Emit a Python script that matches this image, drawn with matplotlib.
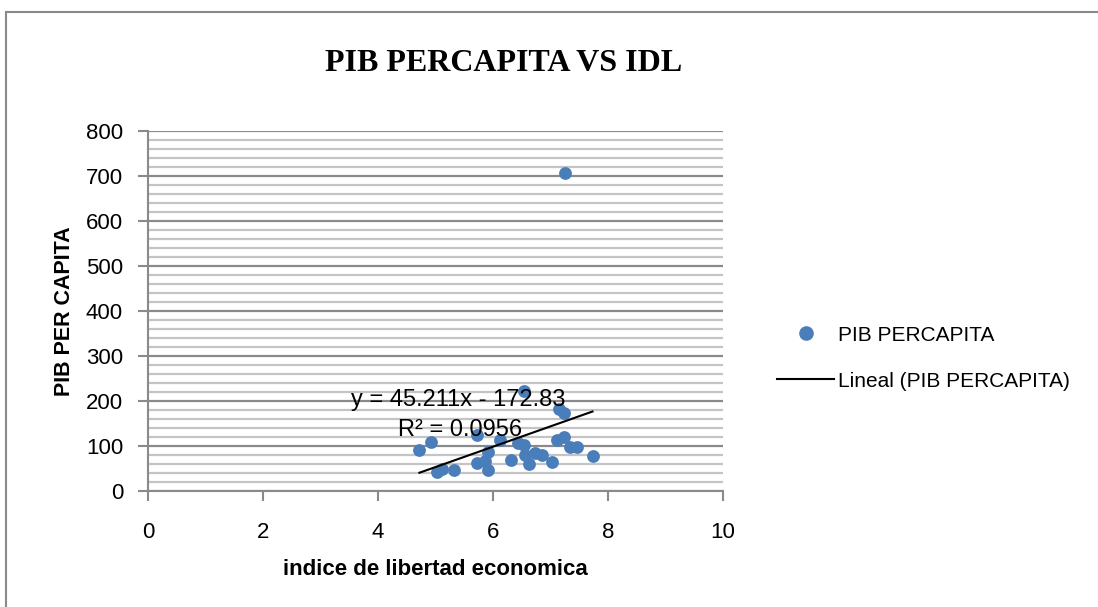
import numpy as np
import matplotlib
matplotlib.use("Agg")
import matplotlib.pyplot as plt
from matplotlib.lines import Line2D

# data
idl = [4.72, 4.92, 5.02, 5.12, 5.32, 5.73, 5.73, 5.92, 5.86, 5.92, 6.12, 6.32,
       6.44, 6.53, 6.53, 6.56, 6.63, 6.73, 6.85, 7.03, 7.11, 7.14, 7.23, 7.23,
       7.34, 7.46, 7.73, 7.25]
pib = [91, 110, 42, 50, 47, 124, 63, 87, 67, 47, 113, 69,
       106, 223, 102, 80, 61, 84, 80, 65, 113, 182, 174, 121,
       98, 98, 78, 707]
slope = 45.211
intercept = -172.83
r2 = 0.0956

blue = "#4A7EBB"
grey = "#8a8a8a"
font = "Liberation Sans"

fig = plt.figure(figsize=(10.98, 6.07), dpi=100)
ax = fig.add_axes([0.1348, 0.1911, 0.5237, 0.5931])

ax.scatter(idl, pib, s=85, color=blue, zorder=3, linewidths=0)
xs = np.array([min(idl), max(idl)])
ax.plot(xs, slope * xs + intercept, color="black", lw=1.5, zorder=4)

ax.set_xlim(0, 10)
ax.set_ylim(0, 800)
ax.set_xticks(range(0, 11, 2))
ax.set_yticks(range(0, 801, 100))
ax.set_yticks(range(0, 801, 20), minor=True)
ax.yaxis.grid(True, which="major", color=grey, lw=1.6, zorder=0)
ax.yaxis.grid(True, which="minor", color="#c4c4c4", lw=1.6, zorder=0)
ax.set_axisbelow(True)
for s in ["top", "right"]:
    ax.spines[s].set_visible(False)
for s in ["left", "bottom"]:
    ax.spines[s].set_color(grey)
    ax.spines[s].set_linewidth(1.5)
ax.tick_params(which="major", length=7, width=1.5, color=grey, labelsize=16)
ax.tick_params(axis="y", pad=11)
ax.tick_params(axis="x", pad=15)
ax.tick_params(which="minor", length=0)
for lab in ax.get_xticklabels() + ax.get_yticklabels():
    lab.set_fontfamily(font)

ax.set_xlabel("indice de libertad economica", fontsize=16, fontweight="bold",
              family=font, labelpad=12)
ax.set_ylabel("PIB PER CAPITA", fontsize=15.5, fontweight="bold", family=font, labelpad=8)

fig.text(0.459, 0.896, "PIB PERCAPITA VS IDL", ha="center", va="center",
         fontsize=23, fontweight="bold", family="Liberation Serif")

ax.text(3.53, 203, "y = 45.211x - 172.83", fontsize=17, family=font, ha="left", va="center")
ax.text(4.35, 135, "R\u00b2 = 0.%s" % str(r2).split(".")[1], fontsize=17, family=font,
        ha="left", va="center")

handles = [Line2D([], [], marker="o", ls="none", color=blue, markersize=9.5),
           Line2D([], [], color="black", lw=1.5)]
fig.legend(handles, ["PIB PERCAPITA", "Lineal (PIB PERCAPITA)"],
           loc="center left", bbox_to_anchor=(0.708, 0.41), frameon=False,
           prop={"family": font, "size": 15}, handlelength=2.7, labelspacing=1.3,
           handletextpad=0.2, borderpad=0, borderaxespad=0)

# chart area frame: only top and left edges are visible in the crop
fig.add_artist(Line2D([0.0055, 1.0], [0.980, 0.980], transform=fig.transFigure,
                      color=grey, lw=1.5))
fig.add_artist(Line2D([0.0055, 0.0055], [0.0, 0.980], transform=fig.transFigure,
                      color=grey, lw=1.5))

fig.savefig("out.png", dpi=100)
